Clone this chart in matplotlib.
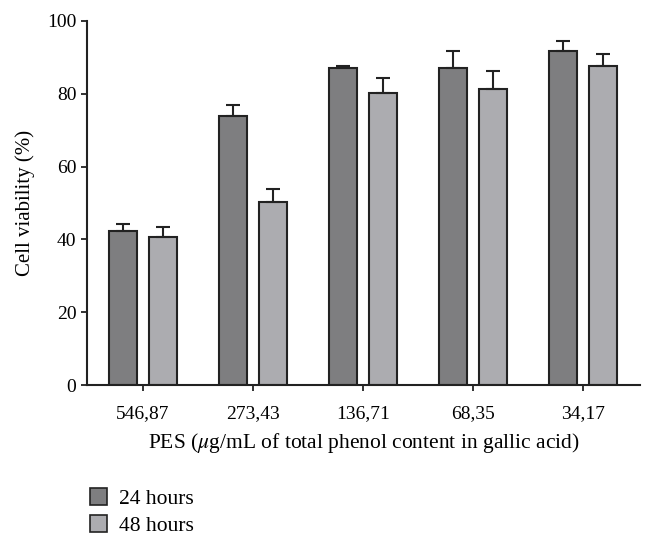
import numpy as np
import matplotlib.pyplot as plt
from matplotlib.patches import Patch

plt.rcParams["font.family"] = ["Liberation Serif", "DejaVu Serif"]
plt.rcParams["mathtext.fontset"] = "stix"

# data
doses = ["546,87", "273,43", "136,71", "68,35", "34,17"]
viab_24h = [42.3, 74.0, 87.0, 87.1, 91.6]
err_24h = [1.9, 3.0, 0.6, 4.5, 2.7]
viab_48h = [40.7, 50.2, 80.2, 81.2, 87.5]
err_48h = [2.6, 3.6, 4.2, 4.9, 3.3]

C24 = "#7e7e80"
C48 = "#acacb0"
EDGE = "#222222"

fig = plt.figure(figsize=(6.48, 5.45), dpi=100)
ax = fig.add_axes([0.134, 0.293, 0.854, 0.669])

x = np.arange(len(doses))
w = 0.255
off = 0.185
ekw = dict(elinewidth=1.5, capthick=1.5, ecolor=EDGE)
ax.bar(x - off, viab_24h, w, color=C24, edgecolor=EDGE, linewidth=1.5,
       yerr=[np.zeros(len(x)), err_24h], capsize=4.8, error_kw=ekw, zorder=2)
ax.bar(x + off, viab_48h, w, color=C48, edgecolor=EDGE, linewidth=1.5,
       yerr=[np.zeros(len(x)), err_48h], capsize=4.8, error_kw=ekw, zorder=2)

ax.set_xlim(-0.51, len(doses) - 1 + 0.52)
ax.set_ylim(0, 100)
ax.set_yticks([0, 20, 40, 60, 80, 100])
ax.set_xticks(x)
ax.set_xticklabels(doses)
for s in ("top", "right"):
    ax.spines[s].set_visible(False)
for s in ("left", "bottom"):
    ax.spines[s].set_linewidth(1.5)
    ax.spines[s].set_color(EDGE)
ax.tick_params(axis="both", labelsize=14, width=1.3, color=EDGE, length=4)
ax.tick_params(axis="x", pad=10)
ax.set_ylabel("Cell viability (%)", fontsize=15, va="center")
ax.yaxis.set_label_coords(-0.112, 0.5)
ax.set_xlabel(r"PES ($\mu$g/mL of total phenol content in gallic acid)",
              fontsize=15.5, va="center")
ax.xaxis.set_label_coords(0.5, -0.158)

handles = [Patch(facecolor=C24, edgecolor=EDGE, linewidth=1.2, label="24 hours"),
           Patch(facecolor=C48, edgecolor=EDGE, linewidth=1.2, label="48 hours")]
fig.legend(handles=handles, loc="upper left", bbox_to_anchor=(0.126, 0.121),
           frameon=False, fontsize=15.5, handlelength=0.8, handleheight=0.85,
           labelspacing=0.3, handletextpad=0.55, borderaxespad=0)

fig.savefig("out.png", dpi=100)
